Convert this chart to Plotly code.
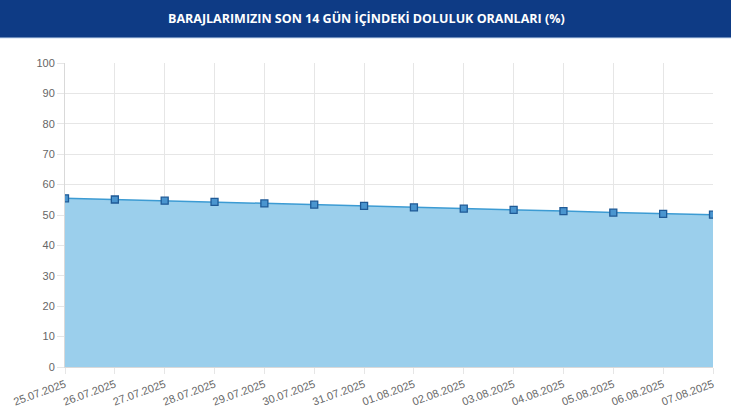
import plotly.graph_objects as go

# Doluluk oranları (%) - son 14 gün
dates = ["25.07.2025", "26.07.2025", "27.07.2025", "28.07.2025", "29.07.2025",
         "30.07.2025", "31.07.2025", "01.08.2025", "02.08.2025", "03.08.2025",
         "04.08.2025", "05.08.2025", "06.08.2025", "07.08.2025"]
rates = [55.5, 55.1, 54.7, 54.3, 53.8, 53.4, 53.0, 52.5, 52.1, 51.7, 51.3, 50.8, 50.4, 50.1]

y_ticks = list(range(0, 101, 10))
title = "BARAJLARIMIZIN SON 14 GÜN İÇİNDEKİ DOLULUK ORANLARI (%)"

fig = go.Figure()
fig.add_trace(go.Scatter(
    x=dates, y=rates,
    mode="lines+markers",
    fill="tozeroy",
    fillcolor="#9bcfec",
    line=dict(color="#3c9bd3", width=1.5),
    marker=dict(symbol="square", size=7, color="#4a95cf",
                line=dict(color="#1f5a96", width=1.3)),
    hoverinfo="x+y",
))

# header band (pixel offsets above the plot top)
fig.add_shape(type="rect", xref="paper", yref="paper",
              x0=-0.2, x1=1.2, ysizemode="pixel", yanchor=1, y0=25, y1=80,
              fillcolor="#0e3b85", line=dict(width=0), layer="below")
fig.add_shape(type="line", xref="paper", yref="paper",
              x0=-0.2, x1=1.2, ysizemode="pixel", yanchor=1, y0=25, y1=25,
              line=dict(color="#c9dcef", width=1), layer="below")
fig.add_annotation(text="<b>" + title + "</b>", xref="paper", yref="paper",
                   x=0.465, y=1.0, yshift=45, showarrow=False,
                   font=dict(family="Open Sans", size=12.5, color="white"),
                   xanchor="center", yanchor="middle")

fig.update_layout(
    width=731, height=410,
    margin=dict(l=65, r=18, t=63, b=43, autoexpand=False),
    paper_bgcolor="white", plot_bgcolor="white",
    showlegend=False,
    font=dict(family="Liberation Sans, Arial", size=11, color="#666666"),
)
fig.update_xaxes(
    type="category", range=[0, len(dates) - 1],
    tickangle=-20, showgrid=True, gridcolor="#e6e6e6",
    ticks="outside", ticklen=6, tickcolor="#e6e6e6",
    showline=True, linecolor="#d9d9d9", mirror=False, automargin=False,
    tickfont=dict(size=11, color="#666666"),
)
fig.update_yaxes(
    range=[0, 100], tickvals=y_ticks,
    showgrid=True, gridcolor="#e6e6e6",
    ticks="outside", ticklen=7, tickcolor="#e6e6e6",
    showline=True, linecolor="#d9d9d9", zeroline=False, automargin=False,
    tickfont=dict(size=11, color="#666666"),
)

fig.write_html("out.html", config={"displayModeBar": False},
               post_script="document.body.style.margin='0';")
